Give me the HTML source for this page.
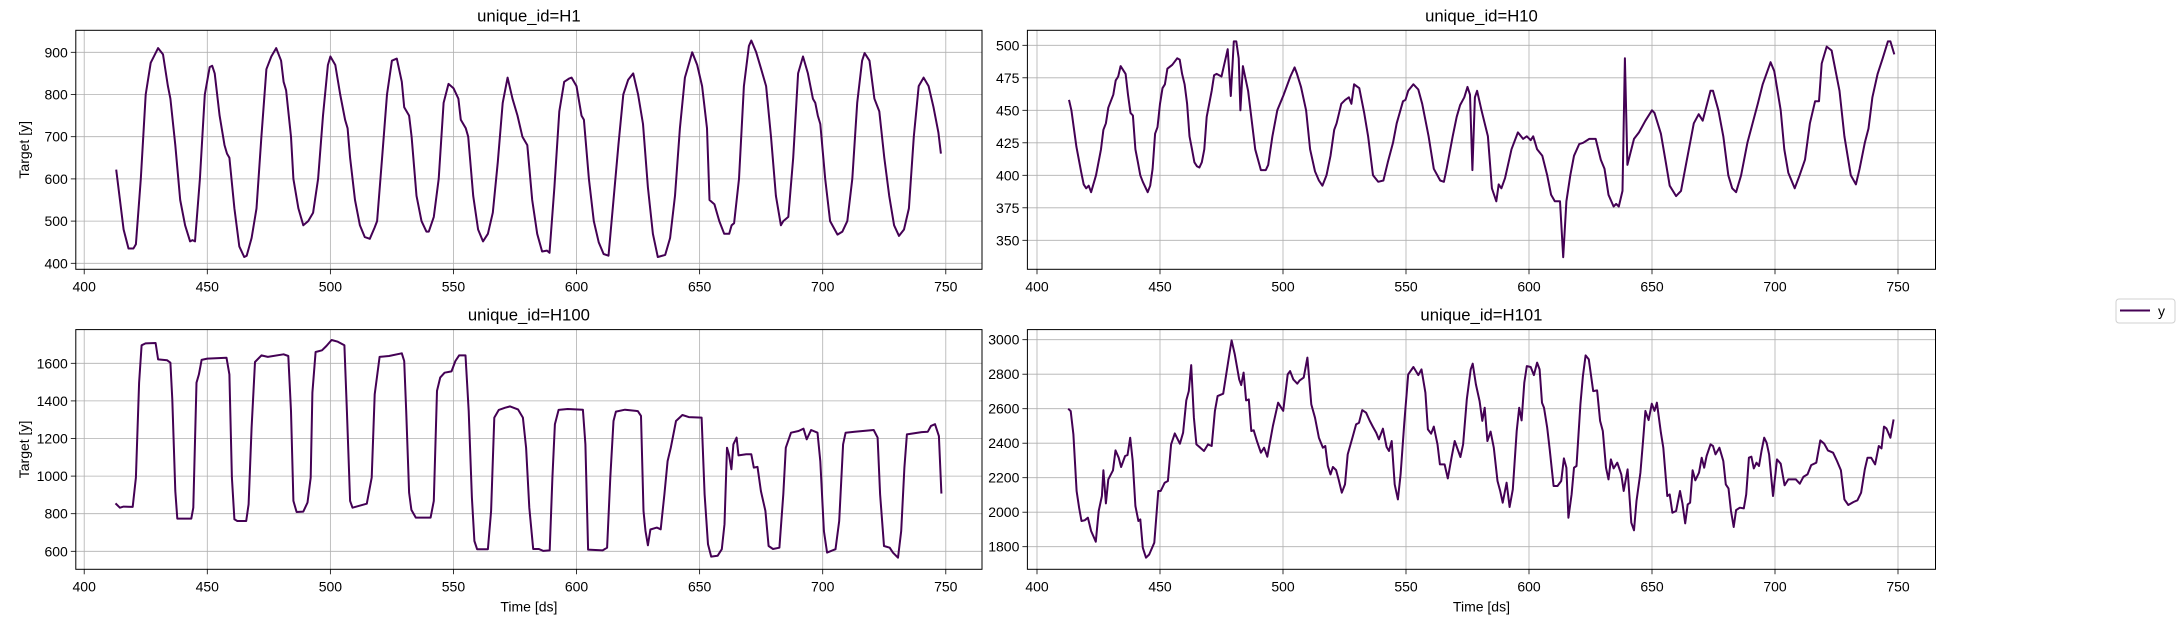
<!DOCTYPE html>
<html><head><meta charset="utf-8"><style>
html,body{margin:0;padding:0;background:#fff;}
svg{display:block;font-family:"Liberation Sans","DejaVu Sans",sans-serif;}
</style></head><body>
<svg id="chart" width="2177" height="622" viewBox="0 0 2177 622" xmlns="http://www.w3.org/2000/svg"></svg>
<script>
const h1Data=[[413,622],[416,480],[418,435],[420,435],[421,445],[423,600],[425,800],[427,875],[430,910],[432,895],[434,820],[435,790],[437,680],[439,550],[441,490],[443,452],[444,455],[445,452],[447,600],[449,800],[451,865],[452,868],[453,850],[455,750],[457,680],[458,660],[459,650],[461,530],[463,440],[465,415],[466,418],[468,460],[470,530],[472,700],[474,860],[476,890],[478,910],[480,880],[481,830],[482,810],[484,700],[485,600],[487,530],[489,490],[491,500],[493,520],[495,600],[497,750],[499,870],[500,890],[502,870],[504,800],[506,740],[507,720],[508,650],[510,550],[512,490],[514,462],[516,458],[518,485],[519,500],[521,650],[523,800],[525,880],[527,885],[529,830],[530,770],[532,750],[533,700],[535,560],[537,500],[539,475],[540,475],[542,510],[544,600],[546,780],[548,825],[550,815],[552,790],[553,740],[555,720],[556,700],[558,560],[560,480],[562,452],[564,470],[566,520],[568,640],[570,780],[572,840],[574,790],[576,750],[578,700],[579,690],[580,680],[582,550],[584,470],[586,428],[588,430],[589,425],[591,580],[593,760],[595,830],[597,838],[598,840],[600,820],[602,750],[603,740],[605,600],[607,500],[609,450],[611,422],[613,418],[615,550],[617,680],[619,800],[621,835],[623,850],[625,800],[627,730],[629,580],[631,470],[633,415],[636,420],[638,460],[640,560],[642,720],[644,840],[646,880],[647,900],[649,870],[651,820],[653,720],[654,550],[656,540],[658,500],[660,470],[662,470],[663,490],[664,495],[666,600],[668,820],[670,915],[671,928],[673,900],[675,860],[677,820],[679,700],[681,560],[683,490],[684,500],[686,510],[688,650],[690,850],[692,890],[694,850],[696,790],[697,780],[698,750],[699,730],[701,600],[703,500],[706,468],[708,475],[710,500],[712,600],[714,780],[716,880],[717,898],[719,880],[721,790],[723,760],[725,650],[727,560],[729,490],[731,465],[733,480],[735,530],[737,700],[739,820],[741,840],[743,820],[745,770],[747,710],[748,660]];
const h10Data=[[413,458],[414,450],[416,422],[418,402],[419,393],[420,390],[421,392],[422,387],[424,400],[426,420],[427,435],[428,440],[429,452],[431,462],[432,473],[433,476],[434,484],[436,478],[437,462],[438,448],[439,446],[440,420],[441,410],[442,400],[443,395],[445,387],[446,392],[447,405],[448,432],[449,437],[450,455],[451,467],[452,470],[453,482],[455,485],[457,490],[458,489],[459,478],[460,470],[461,455],[462,430],[463,420],[464,410],[465,407],[466,406],[467,410],[468,420],[469,445],[470,455],[471,465],[472,477],[473,478],[475,476],[477.5,497],[478.8,461],[480,503],[481,503],[482,490],[482.7,450],[483.7,484],[485.8,465],[488.7,420],[491,404],[493,404],[494,408],[495.7,430],[497.7,450],[500.3,462],[503,476],[504.7,483],[505.7,478],[507.3,468],[509.4,450],[511,420],[513,403],[514.6,396],[516,392],[517.7,400],[519.3,415],[520.8,435],[521.8,440],[523.7,455],[525.3,458],[526.8,460],[527.8,455],[528.9,470],[531,467],[533,448],[534.6,430],[536.6,400],[538.7,395],[540.8,396],[542.6,410],[544.7,425],[546.2,440],[548.8,457],[549.8,458],[550.9,465],[553,470],[555,466],[556.6,455],[559.2,430],[561.3,405],[563.9,396],[565.4,395],[566.5,405],[569,430],[570.6,445],[572,454],[573.7,460],[575,468],[576,462],[577,404],[578,460],[578.9,465],[580.7,450],[583.3,430],[584.9,390],[586.7,380],[587.7,393],[588.8,390],[590.3,398],[592.9,420],[595.5,433],[597.6,428],[599.1,430],[600.7,427],[601.7,430],[603.3,420],[605.4,415],[607.4,400],[609,385],[610.5,380],[612.6,380],[613.9,337],[615.2,380],[616.8,400],[618.3,415],[620.4,424],[622,425],[624.5,428],[627.1,428],[629.2,412],[630.7,405],[632.3,385],[634.4,376],[635.4,378],[636.5,376],[638,388],[639,490],[640,408],[642.7,428],[644.7,433],[647.3,442],[650,450],[651,448],[653.6,432],[655.6,410],[657.2,392],[659.8,384],[661.8,388],[664,410],[667,440],[669,447],[670.6,442],[673.8,465],[674.8,465],[677,450],[679,430],[681,400],[682.6,390],[684.2,387],[686.2,400],[688.8,425],[690.9,440],[693,455],[695,470],[698.2,487],[699.7,480],[702.3,450],[703.8,420],[705.4,402],[708,390],[710,400],[712.2,412],[714.2,440],[716.3,457],[717.9,457],[719,486],[721,499],[723,496],[726.2,465],[728.2,430],[730.8,400],[732.9,393],[734.4,405],[736.5,425],[738,436],[739.6,460],[741.7,478],[743.8,490],[745.9,503],[746.9,503],[748.5,493]];
const h100Data=[[412.7,855],[414.5,832],[416,838],[419.7,836],[421,992],[422.3,1497],[423.3,1696],[424.9,1706],[429,1708],[430,1621],[433.7,1616],[435,1603],[435.8,1408],[437,921],[437.8,774],[443.5,774],[444.3,832],[445.6,1497],[446.6,1541],[447.7,1618],[450,1625],[457.8,1630],[459,1541],[460,992],[461,770],[462.2,761],[465.8,761],[466.8,850],[468,1258],[469.4,1607],[472,1642],[474.6,1634],[481,1648],[482.9,1639],[484,1346],[485,868],[486.3,809],[489,811],[490.7,859],[492,992],[492.7,1444],[494,1660],[496.6,1669],[498.4,1692],[500.5,1724],[503,1715],[505.7,1696],[506.7,1346],[508,868],[509,832],[514.8,853],[516.8,992],[518,1435],[520,1634],[523.8,1639],[529,1653],[530,1612],[530.8,1346],[532,912],[532.9,820],[534.7,779],[540.7,779],[542,868],[543.3,1453],[544.6,1524],[546.4,1550],[549.2,1557],[550.8,1612],[552.3,1642],[554.9,1642],[556.2,1346],[557.5,885],[558.5,655],[559.6,611],[564,611],[565.3,815],[566.6,1311],[568.4,1352],[571,1364],[573,1371],[576.2,1355],[578.2,1311],[579.5,1151],[580.8,832],[582.4,612],[584.7,612],[586.5,602],[589.1,605],[590.2,992],[591.2,1276],[592.7,1352],[596.4,1357],[602.6,1353],[603.6,1169],[604.7,609],[610.6,605],[612.4,619],[613.7,992],[615,1293],[616,1343],[619.7,1353],[624.9,1346],[626.2,1320],[627.2,815],[628,708],[629,632],[630,716],[632.6,726],[634.2,717],[635.7,903],[637,1080],[638.3,1151],[640.4,1293],[643,1325],[645.6,1314],[650.8,1311],[652,903],[653.4,637],[654.7,572],[657.3,576],[659,611],[660.1,744],[661.1,1151],[661.9,1116],[662.9,1036],[663.7,1169],[665,1205],[665.8,1110],[668.9,1116],[671,1116],[672,1045],[673.5,1049],[674.9,921],[676.7,815],[678,628],[679.8,612],[682.4,619],[684,903],[685,1151],[687.1,1231],[690.2,1240],[692.2,1252],[693.5,1196],[695.3,1245],[697.9,1231],[699,1080],[700.5,708],[701.8,593],[705.2,611],[706.7,761],[708.3,1169],[709.3,1231],[713,1236],[720.7,1245],[722.3,1205],[723.3,903],[724.9,628],[727.2,619],[728.5,593],[730.6,566],[731.9,708],[733.2,1045],[734.2,1222],[740.2,1234],[742.7,1236],[744,1267],[745.6,1276],[747.2,1213],[748.2,907]];
const h101Data=[[412.7,2600],[413.7,2586],[414.8,2451],[416.1,2123],[417.1,2026],[418.1,1949],[419.4,1953],[420.7,1968],[422,1891],[423.9,1829],[425.1,2007],[426.4,2094],[427,2243],[428,2051],[429,2190],[430.9,2243],[431.9,2358],[433.2,2316],[434.2,2262],[435.8,2326],[436.8,2331],[437.9,2432],[438.9,2297],[440,2036],[441.2,1949],[442,1958],[443,1794],[444.3,1736],[445.6,1755],[447.7,1823],[449.3,2123],[450.3,2123],[451.9,2171],[453.2,2181],[454.5,2393],[456,2457],[458.1,2397],[459.4,2461],[460.7,2648],[461.7,2702],[462.7,2853],[463.8,2548],[464.8,2393],[466.4,2374],[467.9,2355],[469.5,2393],[471,2384],[472.3,2586],[473.4,2673],[475.7,2687],[477.8,2880],[479.1,2996],[480.4,2915],[482.2,2770],[483,2737],[484,2809],[485,2648],[486.1,2654],[487.1,2471],[488.1,2475],[489.4,2413],[491,2345],[492.3,2374],[493.6,2322],[495.9,2500],[498,2635],[500.1,2587],[501.9,2799],[502.9,2818],[504.2,2770],[505.8,2745],[506.8,2764],[508.4,2780],[509.9,2896],[511.5,2625],[513,2548],[514.6,2432],[516.2,2374],[517.2,2384],[518.2,2268],[519.3,2219],[520.3,2262],[521.6,2244],[522.6,2190],[523.9,2113],[525.2,2161],[526.3,2335],[528.4,2442],[529.7,2509],[530.9,2519],[532.2,2592],[533.8,2577],[535.3,2529],[536.6,2494],[537.9,2461],[539,2422],[540.6,2484],[542.1,2378],[543.1,2355],[544.2,2413],[545.4,2161],[546.7,2074],[547.8,2219],[549.3,2519],[550.9,2799],[553,2842],[555,2795],[556.3,2828],[557.9,2693],[558.9,2480],[560.2,2455],[561.3,2496],[562.8,2393],[563.8,2277],[565.7,2277],[567,2196],[568.5,2316],[569.8,2413],[572.1,2320],[573.2,2393],[574.7,2654],[576.3,2828],[577.1,2861],[578.4,2741],[579.9,2644],[581,2529],[582,2606],[583.1,2413],[584.4,2467],[585.7,2374],[587.2,2181],[588.3,2123],[589.3,2055],[590.9,2171],[592.1,2030],[593.4,2132],[595,2471],[596,2606],[597,2532],[598.1,2751],[599.1,2847],[600.7,2842],[602,2795],[603.3,2867],[604.3,2828],[605.3,2635],[606.1,2606],[607.4,2490],[608.4,2364],[610,2152],[611.6,2152],[613.1,2181],[614.2,2312],[615.2,2258],[616,1968],[617.3,2103],[618.3,2258],[619.3,2268],[620.9,2625],[621.9,2789],[623,2909],[624.3,2886],[626.1,2702],[627.7,2706],[628.9,2529],[630,2471],[631.3,2258],[632.3,2190],[633.3,2306],[634.4,2254],[635.9,2287],[637.5,2219],[638.5,2123],[640.1,2248],[641.6,1939],[642.7,1895],[643.7,2065],[645.3,2229],[646.3,2403],[647.3,2587],[648.6,2534],[649.9,2629],[651,2587],[652,2635],[653.6,2461],[654.6,2374],[656.2,2094],[657.2,2103],[658.3,1997],[659.8,2007],[661.4,2123],[662.4,2049],[663.5,1935],[664.5,2045],[665.5,2055],[666.5,2243],[667.6,2185],[669.1,2229],[670.2,2316],[671.2,2258],[672.2,2326],[673.8,2393],[674.8,2384],[675.8,2335],[677.4,2374],[679,2297],[680,2161],[681.1,2138],[682.1,2007],[683.2,1914],[684.2,2012],[685.7,2026],[687.3,2022],[688.3,2103],[689.4,2316],[690.4,2322],[691.4,2254],[692.5,2287],[693.5,2268],[694.5,2355],[695.6,2432],[696.6,2403],[697.6,2335],[699.2,2094],[700.8,2306],[702.3,2281],[703.9,2156],[705.4,2190],[706.5,2190],[708.5,2190],[710.1,2165],[711.6,2206],[713.2,2219],[714.7,2273],[716.8,2287],[718.4,2416],[720,2397],[721.5,2358],[723.6,2345],[725.2,2297],[726.8,2243],[728.2,2074],[729.8,2042],[731.9,2059],[733.5,2069],[735,2113],[736.5,2248],[737.6,2316],[739.1,2316],[740.7,2277],[742.2,2384],[743.3,2370],[744.3,2496],[745.3,2486],[746.9,2432],[748.2,2538]];
const xTicks=[400,450,500,550,600,650,700,750];
const h1YTicks=[400,500,600,700,800,900];
const h10YTicks=[350,375,400,425,450,475,500];
const h100YTicks=[600,800,1000,1200,1400,1600];
const h101YTicks=[1800,2000,2200,2400,2600,2800,3000];

const svg=document.getElementById('chart');
const NS='http://www.w3.org/2000/svg';
function mk(tag,attrs,parent){const e=document.createElementNS(NS,tag);for(const k in attrs)e.setAttribute(k,attrs[k]);(parent||svg).appendChild(e);return e;}

const panels=[
 {id:'h1',title:'unique_id=H1',data:h1Data,yt:h1YTicks,L:75.8,R:982,T:30.3,B:269.3,x0:84.2,x1:945.8,ya:900,yap:52.3,yb:400,ybp:263.3,ylab:true,xlab:false},
 {id:'h10',title:'unique_id=H10',data:h10Data,yt:h10YTicks,L:1027.4,R:1935.5,T:30.3,B:269.3,x0:1037,x1:1898,ya:500,yap:45.3,yb:350,ybp:240.3,ylab:false,xlab:false},
 {id:'h100',title:'unique_id=H100',data:h100Data,yt:h100YTicks,L:75.8,R:982,T:329.6,B:569.3,x0:84.2,x1:945.8,ya:1600,yap:363.3,yb:600,ybp:551.3,ylab:true,xlab:true},
 {id:'h101',title:'unique_id=H101',data:h101Data,yt:h101YTicks,L:1027.4,R:1935.5,T:329.6,B:569.3,x0:1037,x1:1898,ya:3000,yap:339.7,yb:1800,ybp:546.7,ylab:false,xlab:true}
];
panels.forEach(p=>{
  const xs=v=>p.x0+(v-400)*(p.x1-p.x0)/350;
  const ys=v=>p.yap+(v-p.ya)*(p.ybp-p.yap)/(p.yb-p.ya);
  const g=mk('g',{});
  
  
  const grid=mk('g',{stroke:'#b0b0b0','stroke-width':'0.8'},g);
  
  
  xTicks.forEach(t=>{const x=xs(t);mk('line',{x1:x,x2:x,y1:p.T,y2:p.B},grid);
    mk('line',{x1:x,x2:x,y1:p.B,y2:p.B+5,stroke:'#000','stroke-width':'0.8'},g);
    const tx=mk('text',{x:x,y:p.B+22,'font-size':'14','text-anchor':'middle',fill:'#000'},g);tx.textContent=t;
    
    });
  p.yt.forEach(t=>{const y=ys(t);mk('line',{x1:p.L,x2:p.R,y1:y,y2:y},grid);
    mk('line',{x1:p.L-5,x2:p.L,y1:y,y2:y,stroke:'#000','stroke-width':'0.8'},g);
    const tx=mk('text',{x:p.L-8,y:y+5,'font-size':'14','text-anchor':'end',fill:'#000'},g);tx.textContent=t;
    
    });
  const d=p.data.map((pt,i)=>(i?'L':'M')+xs(pt[0]).toFixed(1)+','+ys(pt[1]).toFixed(1)).join('');
  const path=mk('path',{d:d,fill:'none',stroke:'#440154','stroke-width':'2','stroke-linejoin':'round'},g);
  
  
  const box=mk('rect',{x:p.L,y:p.T,width:p.R-p.L,height:p.B-p.T,fill:'none',stroke:'#000','stroke-width':'1'},g);
  
  
  const ti=mk('text',{x:(p.L+p.R)/2,y:p.T-9,'font-size':'16.7','text-anchor':'middle',fill:'#000'},g);ti.textContent=p.title;
  
  
  if(p.ylab){const cy=(p.T+p.B)/2;const yl=mk('text',{x:24,y:cy,'font-size':'14','text-anchor':'middle',fill:'#000',transform:'rotate(-90 24 '+cy+') translate(0 5)'},g);yl.textContent='Target [y]';
    
    }
  if(p.xlab){const xl=mk('text',{x:(p.L+p.R)/2,y:p.B+42,'font-size':'14','text-anchor':'middle',fill:'#000'},g);xl.textContent='Time [ds]';
    
    }
});
const lg=mk('g',{});


mk('rect',{x:2116,y:299,width:59,height:24,rx:3,fill:'#fff',stroke:'#d0d0d0','stroke-width':'1'},lg);
const ll=mk('line',{x1:2120,x2:2150,y1:310.5,y2:310.5,stroke:'#440154','stroke-width':'2'},lg);


const lt=mk('text',{x:2158,y:316,'font-size':'14',fill:'#000'},lg);lt.textContent='y';


</script>
</body></html>
